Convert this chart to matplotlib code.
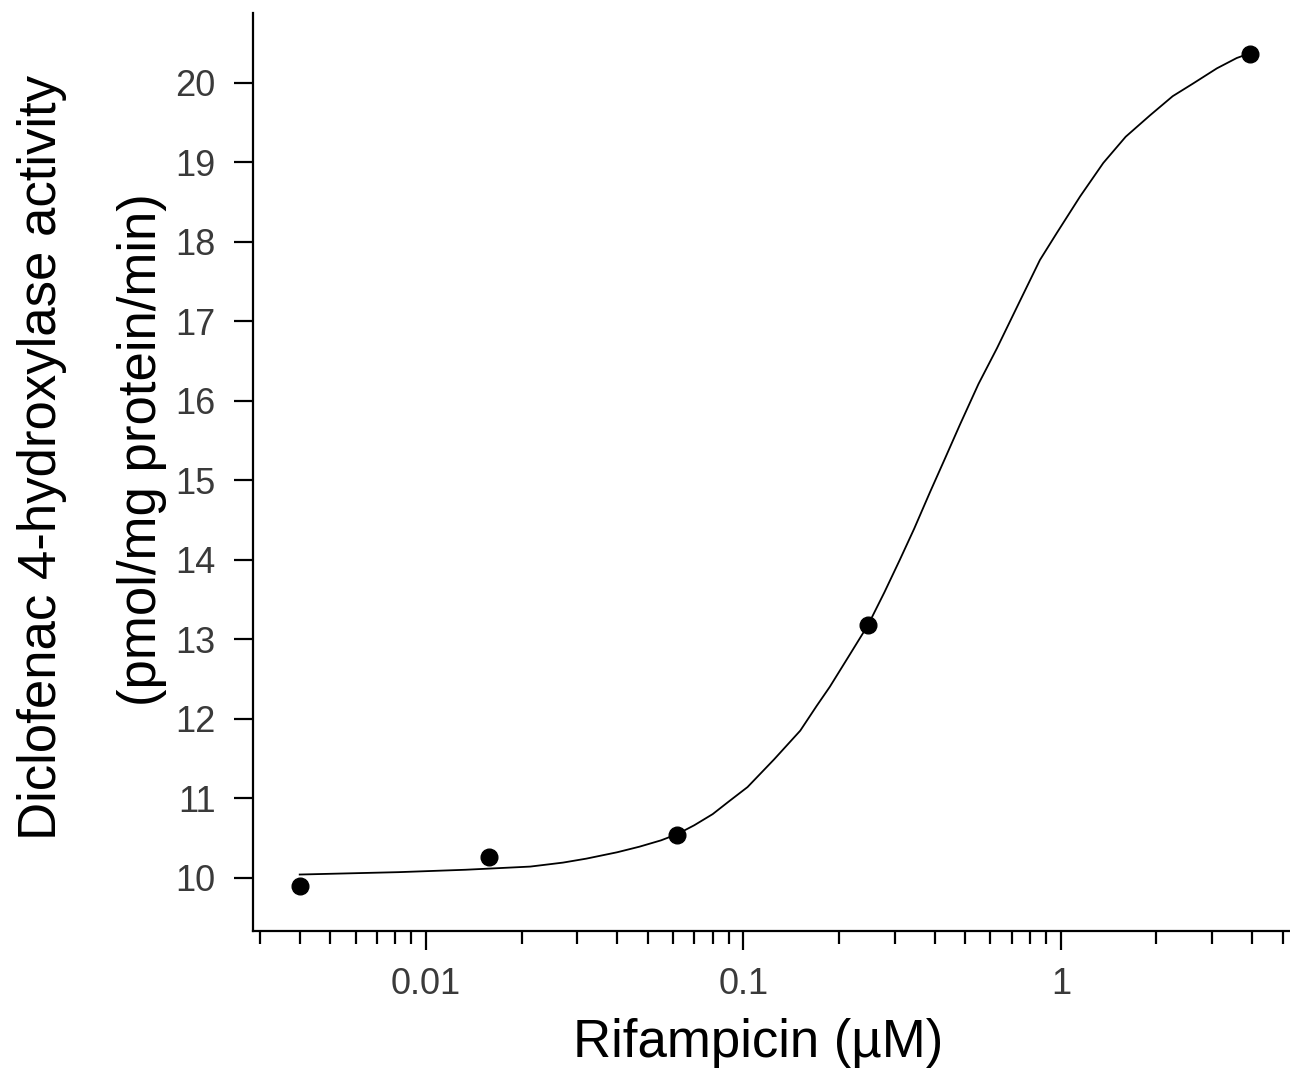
import numpy as np
import matplotlib
matplotlib.use('Agg')
from matplotlib import pyplot as plt
from matplotlib.ticker import LogLocator, FixedLocator, NullFormatter

# measured points
conc = [0.0040, 0.0158, 0.0617, 0.247, 3.94]
activity = [9.89, 10.26, 10.54, 13.18, 20.36]

# fitted curve
fit_conc = [0.0040, 0.0082, 0.0133, 0.0213, 0.027, 0.032, 0.040, 0.047, 0.055,
            0.062, 0.070, 0.080, 0.090, 0.103, 0.125, 0.151, 0.170, 0.187,
            0.215, 0.247, 0.278, 0.311, 0.345, 0.387, 0.430, 0.481, 0.550,
            0.629, 0.740, 0.859, 0.971, 1.15, 1.36, 1.60, 1.91, 2.25, 2.61,
            3.10, 3.58, 3.94]
fit_act = [10.04, 10.07, 10.10, 10.14, 10.19, 10.24, 10.32, 10.39, 10.47,
           10.55, 10.66, 10.80, 10.96, 11.14, 11.49, 11.85, 12.16, 12.40,
           12.79, 13.18, 13.59, 14.00, 14.39, 14.85, 15.26, 15.70, 16.21,
           16.66, 17.24, 17.77, 18.11, 18.57, 18.99, 19.32, 19.59, 19.83, 19.99,
           20.18, 20.31, 20.37]

xticks = [0.01, 0.1, 1]
xticklabels = ['0.01', '0.1', '1']
yticks = list(range(10, 21))

plt.rcParams['font.family'] = ['Liberation Sans', 'DejaVu Sans']

fig = plt.figure(figsize=(12.9, 10.77), dpi=100)
ax = fig.add_axes([0.1961, 0.1358, 0.8031, 0.8524])

ax.plot(fit_conc, fit_act, '-', color='black', lw=1.3)
ax.plot(conc, activity, 'o', color='black', ms=12)

ax.set_xscale('log')
ax.set_xlim(0.00285, 5.23)
ax.set_ylim(9.333, 20.88)

ax.spines['top'].set_visible(False)
ax.spines['right'].set_visible(False)
for s in ['left', 'bottom']:
    ax.spines[s].set_linewidth(1.6)

ax.xaxis.set_major_locator(FixedLocator(xticks))
ax.set_xticklabels(xticklabels)
ax.xaxis.set_minor_locator(LogLocator(base=10, subs=np.arange(2, 10)))
ax.xaxis.set_minor_formatter(NullFormatter())
ax.set_yticks(yticks)

ax.tick_params(axis='both', which='major', length=14, width=1.6, labelsize=26,
               direction='out', color='black', labelcolor='#3a3a3a')
ax.tick_params(axis='x', which='minor', length=9.5, width=1.6, direction='out')
ax.tick_params(axis='y', pad=13)
ax.tick_params(axis='x', pad=12)

fig.text(758 / 1290, 1 - 1043 / 1077, 'Rifampicin (\u00b5M)', ha='center', va='center', fontsize=38)
fig.text(42 / 1290, 1 - 457 / 1077, 'Diclofenac 4-hydroxylase activity', rotation=90,
         ha='center', va='center', fontsize=38)
fig.text(142 / 1290, 1 - 450 / 1077, '(pmol/mg protein/min)', rotation=90,
         ha='center', va='center', fontsize=38)

plt.savefig('out.png', dpi=100)
